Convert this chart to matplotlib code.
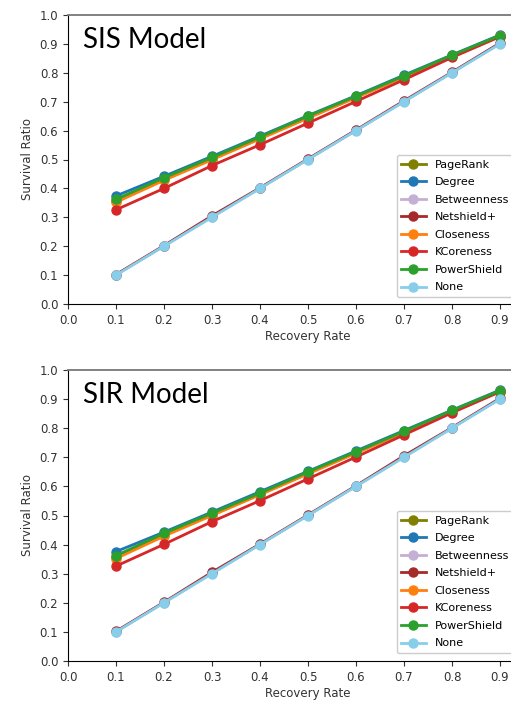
import matplotlib
matplotlib.use("Agg")
import matplotlib.pyplot as plt

recovery_rate = [0.1, 0.2, 0.3, 0.4, 0.5, 0.6, 0.7, 0.8, 0.9]
methods = ["PageRank", "Degree", "Betweenness", "Netshield+", "Closeness",
           "KCoreness", "PowerShield", "None"]
colors = ["#808000", "#1f77b4", "#c5b0d5", "#a52a2a", "#ff7f0e",
          "#d62728", "#2ca02c", "#87ceeb"]

# SIS model
pagerank_sis = [0.358, 0.432, 0.502, 0.574, 0.645, 0.716, 0.787, 0.858, 0.928]
degree_sis = [0.374, 0.442, 0.511, 0.581, 0.652, 0.721, 0.792, 0.862, 0.931]
betweenness_sis = [0.101, 0.201, 0.302, 0.401, 0.501, 0.601, 0.701, 0.801, 0.902]
netshield_sis = [0.102, 0.202, 0.305, 0.402, 0.502, 0.602, 0.703, 0.802, 0.903]
closeness_sis = [0.352, 0.428, 0.499, 0.571, 0.643, 0.714, 0.785, 0.857, 0.927]
kcoreness_sis = [0.326, 0.400, 0.479, 0.551, 0.626, 0.701, 0.776, 0.853, 0.925]
powershield_sis = [0.362, 0.437, 0.507, 0.578, 0.650, 0.719, 0.789, 0.861, 0.929]
none_sis = [0.100, 0.200, 0.300, 0.400, 0.500, 0.600, 0.700, 0.800, 0.900]

# SIR model
pagerank_sir = [0.358, 0.433, 0.503, 0.574, 0.645, 0.716, 0.787, 0.858, 0.928]
degree_sir = [0.376, 0.443, 0.512, 0.582, 0.652, 0.722, 0.792, 0.862, 0.931]
betweenness_sir = [0.101, 0.201, 0.302, 0.401, 0.501, 0.601, 0.702, 0.801, 0.902]
netshield_sir = [0.102, 0.202, 0.305, 0.402, 0.502, 0.602, 0.705, 0.802, 0.903]
closeness_sir = [0.352, 0.429, 0.500, 0.571, 0.643, 0.714, 0.785, 0.857, 0.927]
kcoreness_sir = [0.326, 0.401, 0.479, 0.551, 0.626, 0.701, 0.777, 0.853, 0.925]
powershield_sir = [0.362, 0.439, 0.508, 0.577, 0.650, 0.719, 0.789, 0.861, 0.929]
none_sir = [0.100, 0.200, 0.300, 0.400, 0.500, 0.600, 0.700, 0.800, 0.900]

sis_series = [pagerank_sis, degree_sis, betweenness_sis, netshield_sis,
              closeness_sis, kcoreness_sis, powershield_sis, none_sis]
sir_series = [pagerank_sir, degree_sir, betweenness_sir, netshield_sir,
              closeness_sir, kcoreness_sir, powershield_sir, none_sir]

x_ticks = [0.0, 0.1, 0.2, 0.3, 0.4, 0.5, 0.6, 0.7, 0.8, 0.9]
y_ticks = [0.0, 0.1, 0.2, 0.3, 0.4, 0.5, 0.6, 0.7, 0.8, 0.9, 1.0]

W, H = 511, 704
fig = plt.figure(figsize=(W / 100, H / 100), dpi=100)

def px_axes(left, right, top, bottom):
    return [left / W, 1 - bottom / H, (right - left) / W, (bottom - top) / H]

panels = [
    ("SIS Model", sis_series, px_axes(68, 548, 15, 304)),
    ("SIR Model", sir_series, px_axes(68, 548, 370, 661)),
]

for title, series, rect in panels:
    ax = fig.add_axes(rect)
    for name, col, vals in zip(methods, colors, series):
        ax.plot(recovery_rate, vals, color=col, marker="o", linewidth=2.0,
                markersize=6.5, label=name)
    ax.set_xlim(0.0, 1.0)
    ax.set_ylim(0.0, 1.0)
    ax.set_xticks(x_ticks)
    ax.set_yticks(y_ticks)
    ax.set_xticklabels([f"{v:.1f}" for v in x_ticks])
    ax.set_yticklabels([f"{v:.1f}" for v in y_ticks])
    ax.tick_params(labelsize=8.5, colors="#333333")
    ax.set_xlabel("Recovery Rate", fontsize=8.5, color="#333333", labelpad=2)
    ax.set_ylabel("Survival Ratio", fontsize=8.5, color="#333333", labelpad=4)
    ax.spines["top"].set_color("#777777")
    ax.spines["top"].set_linewidth(1.3)
    ax.text(0.031, 0.887, title, transform=ax.transAxes, fontsize=20,
            family="Lato", va="baseline", ha="left", color="black")
    ax.legend(loc="upper left", bbox_to_anchor=(0.685, 0.515),
              borderaxespad=0, fontsize=8, labelspacing=0.68,
              handlelength=2.2, framealpha=1.0)

fig.savefig("out.png", dpi=100)
